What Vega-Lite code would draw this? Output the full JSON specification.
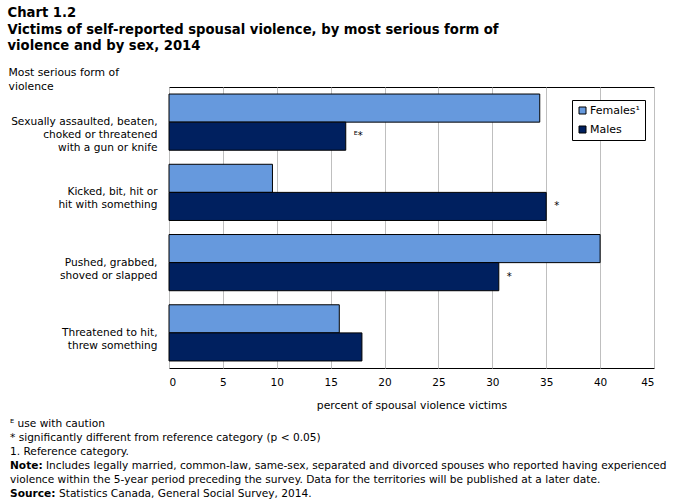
{
  "$schema": "https://vega.github.io/schema/vega-lite/v6.json",
  "padding": {"left": 7, "top": 6, "right": 5, "bottom": 2},
  "config": {"font": "DejaVu Sans", "view": {"stroke": null}},
  "title": {
    "text": ["Chart 1.2", "Victims of self-reported spousal violence, by most serious form of", "violence and by sex, 2014"],
    "anchor": "start", "frame": "bounds", "font": "DejaVu Sans", "fontSize": 13.2, "fontWeight": "bold",
    "lineHeight": 16.5, "color": "#000", "offset": 12
  },
  "spacing": 6,
  "vconcat": [
    {
      "width": 485,
      "height": 281,
      "view": {"stroke": "#000", "strokeWidth": 1},
      "data": {"values": [
        {"cat": "Sexually assaulted, beaten,|choked or threatened|with a gun or knife", "sex": "Females¹", "value": 34.4, "flag": ""},
        {"cat": "Sexually assaulted, beaten,|choked or threatened|with a gun or knife", "sex": "Males", "value": 16.4, "flag": "ᴱ*"},
        {"cat": "Kicked, bit, hit or|hit with something", "sex": "Females¹", "value": 9.6, "flag": ""},
        {"cat": "Kicked, bit, hit or|hit with something", "sex": "Males", "value": 35.0, "flag": "*"},
        {"cat": "Pushed, grabbed,|shoved or slapped", "sex": "Females¹", "value": 40.0, "flag": ""},
        {"cat": "Pushed, grabbed,|shoved or slapped", "sex": "Males", "value": 30.6, "flag": "*"},
        {"cat": "Threatened to hit,|threw something", "sex": "Females¹", "value": 15.8, "flag": ""},
        {"cat": "Threatened to hit,|threw something", "sex": "Males", "value": 17.9, "flag": ""}
      ]},
      "encoding": {
        "y": {
          "field": "cat", "type": "nominal", "sort": null,
          "scale": {"paddingInner": 0.2, "paddingOuter": 0.1},
          "axis": {
            "title": ["Most serious form of", "violence"],
            "titleAngle": 0, "titleAlign": "left", "titleBaseline": "top",
            "titleX": -161, "titleY": -21, "titleFont": "DejaVu Sans", "titleFontSize": 10.8,
            "titleFontWeight": "normal", "titleColor": "#000", "titleLineHeight": 14,
            "labelExpr": "split(datum.label, '|')", "labelFontSize": 10.6, "labelLineHeight": 13,
            "labelPadding": 12, "ticks": false, "domain": false, "labelColor": "#000", "labelLimit": 300
          }
        },
        "yOffset": {"field": "sex", "type": "nominal", "sort": ["Females¹", "Males"], "scale": {"paddingInner": 0, "paddingOuter": 0}},
        "x": {
          "field": "value", "type": "quantitative",
          "scale": {"domain": [0, 45], "nice": false},
          "axis": {
            "values": [0, 5, 10, 15, 20, 25, 30, 35, 40, 45],
            "title": "percent of spousal violence victims", "titleFont": "DejaVu Sans", "titleFontSize": 10.8,
            "titleFontWeight": "normal", "titleColor": "#000", "titlePadding": 12,
            "labelFontSize": 10.5, "labelColor": "#000", "labelPadding": 9, "ticks": false, "domain": false,
            "grid": true, "gridColor": "#bfbfbf", "gridWidth": 1, "gridOpacity": 1
          }
        }
      },
      "layer": [
        {
          "mark": {"type": "bar", "stroke": "#000", "strokeWidth": 1},
          "encoding": {
            "color": {
              "field": "sex", "type": "nominal",
              "scale": {"domain": ["Females¹", "Males"], "range": ["#6699DD", "#00205F"]},
              "legend": {
                "title": null, "orient": "none", "legendX": 403, "legendY": 13,
                "strokeColor": "#000", "fillColor": "#fff", "padding": 5,
                "symbolType": "square", "symbolSize": 49, "symbolStrokeColor": "#000", "symbolStrokeWidth": 1,
                "symbolOpacity": 1,
                "labelFont": "DejaVu Sans", "labelFontSize": 11, "labelColor": "#000", "rowPadding": 7, "labelOffset": 2
              }
            }
          }
        },
        {
          "mark": {"type": "text", "align": "left", "baseline": "middle", "dx": 8, "fontSize": 10, "color": "#000"},
          "encoding": {"text": {"field": "flag"}}
        }
      ]
    },
    {
      "width": 485,
      "height": 84,
      "view": {"stroke": null},
      "data": {"values": [
        {"line": 1, "prefix": "", "text": "ᴱ use with caution"},
        {"line": 2, "prefix": "", "text": "* significantly different from reference category (p < 0.05)"},
        {"line": 3, "prefix": "", "text": "1. Reference category."},
        {"line": 4, "prefix": "Note:", "text": "Includes legally married, common-law, same-sex, separated and divorced spouses who reported having experienced"},
        {"line": 5, "prefix": "", "text": "violence within the 5-year period preceding the survey. Data for the territories will be published at a later date."},
        {"line": 6, "prefix": "Source:", "text": "Statistics Canada, General Social Survey, 2014."}
      ]},
      "encoding": {
        "y": {"field": "line", "type": "ordinal", "axis": null, "scale": {"paddingInner": 0, "paddingOuter": 0}},
        "x": {"value": -159}
      },
      "layer": [
        {
          "transform": [{"filter": "datum.prefix == ''"}],
          "mark": {"type": "text", "align": "left", "baseline": "middle", "font": "DejaVu Sans", "fontSize": 10.6, "color": "#000"},
          "encoding": {"text": {"field": "text"}}
        },
        {
          "transform": [{"filter": "datum.prefix != ''"}],
          "mark": {"type": "text", "align": "left", "baseline": "middle", "font": "DejaVu Sans", "fontSize": 10.6, "fontWeight": "bold", "color": "#000"},
          "encoding": {"text": {"field": "prefix"}}
        },
        {
          "transform": [{"filter": "datum.prefix == 'Note:'"}],
          "mark": {"type": "text", "align": "left", "baseline": "middle", "dx": 36, "font": "DejaVu Sans", "fontSize": 10.6, "color": "#000"},
          "encoding": {"text": {"field": "text"}}
        },
        {
          "transform": [{"filter": "datum.prefix == 'Source:'"}],
          "mark": {"type": "text", "align": "left", "baseline": "middle", "dx": 49, "font": "DejaVu Sans", "fontSize": 10.6, "color": "#000"},
          "encoding": {"text": {"field": "text"}}
        }
      ]
    }
  ]
}
